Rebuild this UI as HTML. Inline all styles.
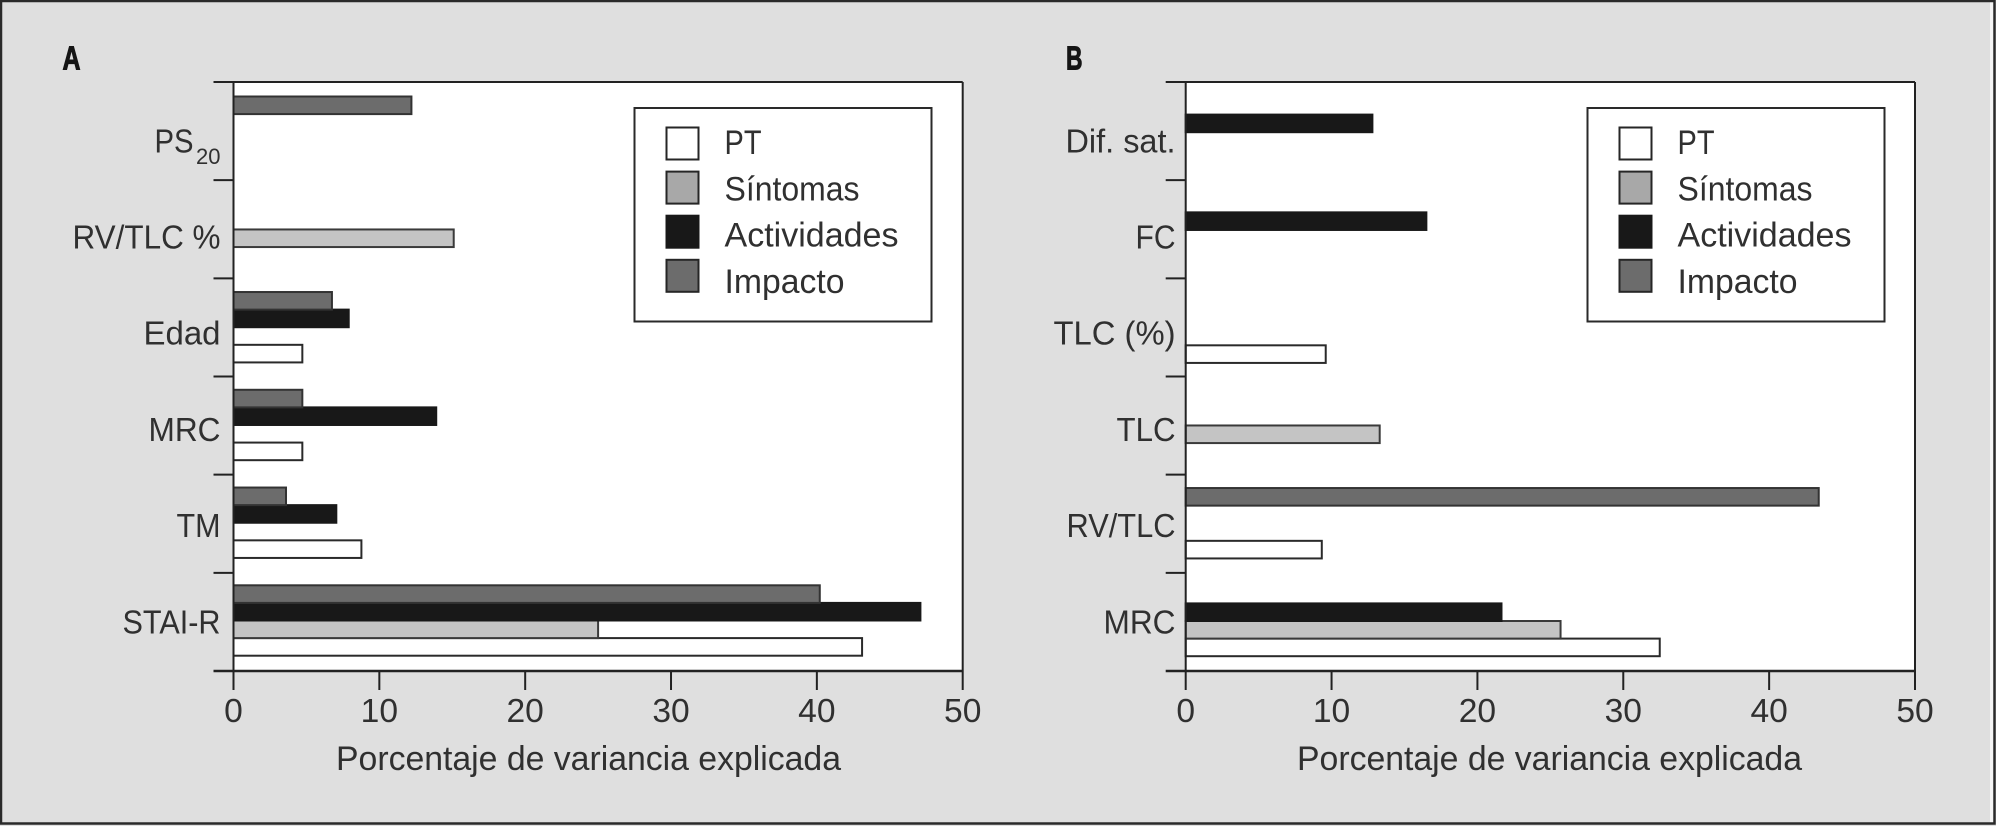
<!DOCTYPE html>
<html lang="es">
<head>
<meta charset="utf-8">
<title>Porcentaje de variancia explicada</title>
<style>
html,body{margin:0;padding:0;background:#dfdfdf;}
svg{display:block;}
text{font-family:"Liberation Sans",sans-serif;fill:#303030;}
</style>
</head>
<body>
<svg id="figure" xmlns="http://www.w3.org/2000/svg" width="1996" height="826" viewBox="0 0 1996 826">
  <rect x="0" y="0" width="1996" height="826" fill="#dfdfdf"/>
  <rect x="1990" y="2" width="4" height="821" fill="#f4f4f4"/>
  <rect x="1" y="1" width="1993.5" height="822.5" fill="none" stroke="#2a2a2a" stroke-width="2.5"/>
</svg>
<script>
const seriesNames = ['PT', 'Síntomas', 'Actividades', 'Impacto'];
const tickLabels = [0, 10, 20, 30, 40, 50];
const xAxisTitle = 'Porcentaje de variancia explicada';

const categoriesA = ['PS', 'RV/TLC %', 'Edad', 'MRC', 'TM', 'STAI-R'];
const subscriptsA = ['20', '', '', '', '', ''];
const impactoA = [12.2, null, 6.75, 4.72, 3.6, 40.2];
const actividadesA = [null, null, 7.9, 13.9, 7.05, 47.1];
const sintomasA = [null, 15.1, null, null, null, 25.0];
const ptA = [null, null, 4.72, 4.72, 8.77, 43.1];

const categoriesB = ['Dif. sat.', 'FC', 'TLC (%)', 'TLC', 'RV/TLC', 'MRC'];
const subscriptsB = ['', '', '', '', '', ''];
const impactoB = [null, null, null, null, 43.4, null];
const actividadesB = [12.8, 16.5, null, null, null, 21.65];
const sintomasB = [null, null, null, 13.3, null, 25.7];
const ptB = [null, null, 9.6, null, 9.33, 32.5];

const NS = 'http://www.w3.org/2000/svg';
const svg = document.getElementById('figure');
const xMax = 50;
const plotTop = 82;
const plotBottom = 671;
const tickPitch = (plotBottom - plotTop) / 6;
const bandPitch = 97.76;
const barStep = 17.6;
const fills = ['#ffffff', '#c4c4c4', '#181818', '#6c6c6c'];
const swatchFills = ['#ffffff', '#a8a8a8', '#181818', '#6c6c6c'];
const strokes = ['#2a2a2a', '#3a3a3a', '#181818', '#333333'];
const legendTextFit = [37, 135, 174, 120];

function make(tag, attrs, parent, content) {
  const el = document.createElementNS(NS, tag);
  for (const k in attrs) el.setAttribute(k, attrs[k]);
  if (content !== undefined) el.textContent = content;
  parent.appendChild(el);
  return el;
}

function drawPanel(p) {
  const xScale = v => p.x0 + (v / xMax) * (p.x1 - p.x0);
  const bandTop = i => 96.5 + p.barShift + i * bandPitch;
  const rowY = (i, s) => bandTop(i) + (3 - s) * barStep;

  const g = make('g', {}, svg);
  
  

  const letter = make('text', {x: p.letterX, y: 69.5, 'font-size': 33, 'font-weight': 700, stroke: '#151515', 'stroke-width': 1, textLength: p.letterW, lengthAdjust: 'spacingAndGlyphs'}, g, p.id);
  letter.style.fill = '#151515';
  
  

  const plot = make('rect', {x: p.x0, y: plotTop, width: p.x1 - p.x0, height: plotBottom - plotTop, fill: '#ffffff'}, g);
  
  

  p.series.forEach((values, s) => {
    values.forEach((v, i) => {
      if (v === null) return;
      const bar = make('rect', {
        x: p.x0,
        y: rowY(i, s),
        width: xScale(v) - p.x0,
        height: barStep,
        fill: fills[s],
        stroke: strokes[s],
        'stroke-width': 2
      }, g);
      
      
    });
  });

  const axisStyle = {stroke: '#222222', 'stroke-width': 2, fill: 'none'};
  const topLine = make('line', Object.assign({x1: p.x0 - 20, x2: p.x1, y1: plotTop, y2: plotTop}, axisStyle), g);
  
  
  const bottomLine = make('line', Object.assign({x1: p.x0 - 20, x2: p.x1, y1: plotBottom, y2: plotBottom}, axisStyle, {'stroke-width': 2.4}), g);
  
  
  const leftLine = make('line', Object.assign({x1: p.x0, x2: p.x0, y1: plotTop, y2: plotBottom}, axisStyle), g);
  
  
  const rightLine = make('line', Object.assign({x1: p.x1, x2: p.x1, y1: plotTop, y2: plotBottom}, axisStyle), g);
  
  

  for (let i = 1; i < p.categories.length; i++) {
    const y = plotTop + i * tickPitch;
    const t = make('line', Object.assign({x1: p.x0 - 20, x2: p.x0, y1: y, y2: y}, axisStyle), g);
    
    
  }

  p.categories.forEach((c, i) => {
    const sub = p.subscripts[i];
    const y = 152.3 + i * 96.2;
    const labelRight = sub ? p.labelRight - 27 : p.labelRight;
    const w = p.labelFit[i];
    const label = make('text', {x: labelRight - w, y: y, 'font-size': 33.6, textLength: w, lengthAdjust: 'spacingAndGlyphs'}, g, c);
    
    
    if (sub) {
      const st = make('text', {x: p.labelRight, y: y + 11.5, 'font-size': 22, 'text-anchor': 'end'}, g, sub);
      
      
    }
  });

  tickLabels.forEach(v => {
    const x = xScale(v);
    const t = make('line', Object.assign({x1: x, x2: x, y1: plotBottom, y2: 690}, axisStyle), g);
    
    
    const l = make('text', {x: x, y: 722, 'font-size': 33.6, 'text-anchor': 'middle'}, g, String(v));
    
    
  });

  const title = make('text', {x: p.titleX, y: 770, 'font-size': 33.8, textLength: 505, lengthAdjust: 'spacing'}, g, xAxisTitle);
  
  

  const legend = make('g', {}, g);
  
  
  const box = make('rect', {x: p.legendX, y: 108, width: p.legendW, height: 213.5, fill: '#ffffff', stroke: '#2a2a2a', 'stroke-width': 2}, legend);
  
  
  seriesNames.forEach((name, s) => {
    const sw = make('rect', {x: p.legendX + 32, y: 127.5 + s * 44.1, width: 32, height: 32, fill: swatchFills[s], stroke: s === 2 ? '#181818' : '#262626', 'stroke-width': 2}, legend);
    
    
    const tx = make('text', {x: p.legendX + 90, y: 154 + s * 46.3, 'font-size': 33.8, textLength: legendTextFit[s], lengthAdjust: 'spacingAndGlyphs'}, legend, name);
    
    
  });
}

drawPanel({
  id: 'A', letterX: 62.5, letterW: 18, x0: 233.5, x1: 962.7, titleX: 336, legendX: 634.5, legendW: 297,
  barShift: 0, labelRight: 220.5, labelFit: [39, 148, 77, 72, 44, 98],
  categories: categoriesA, subscripts: subscriptsA,
  series: [ptA, sintomasA, actividadesA, impactoA]
});
drawPanel({
  id: 'B', letterX: 1066, letterW: 16.5, x0: 1185.7, x1: 1915, titleX: 1297, legendX: 1587.5, legendW: 297,
  barShift: 0.5, labelRight: 1175.5, labelFit: [110, 40, 122, 59, 109, 72],
  categories: categoriesB, subscripts: subscriptsB,
  series: [ptB, sintomasB, actividadesB, impactoB]
});
</script>
</body>
</html>
